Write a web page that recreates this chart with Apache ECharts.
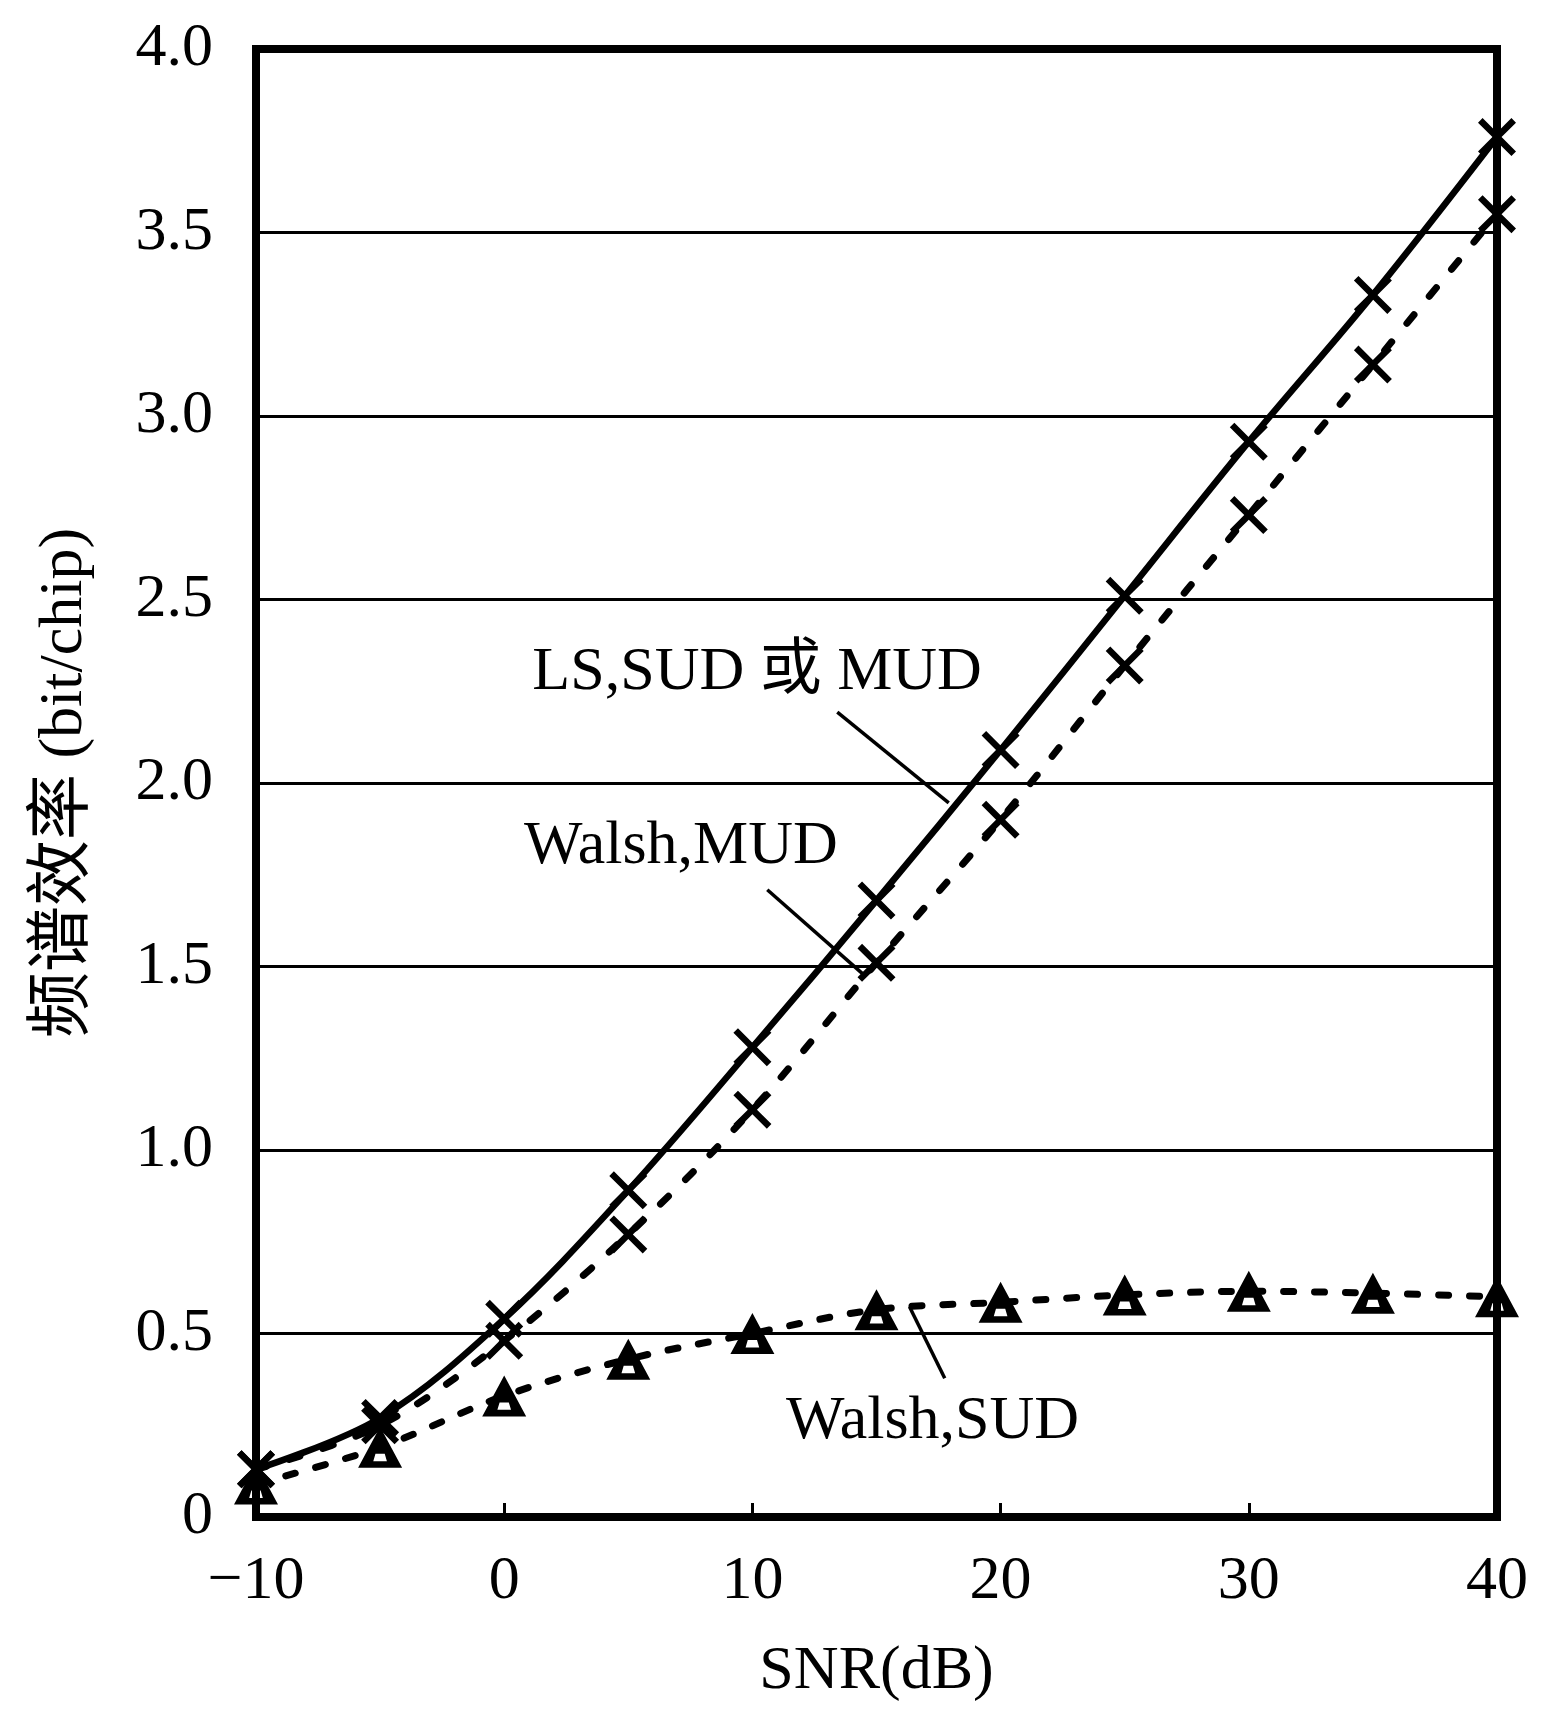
<!DOCTYPE html>
<html>
<head>
<meta charset="utf-8">
<script src="https://cdn.jsdelivr.net/npm/echarts@6/dist/echarts.min.js"></script>
<style>
html,body{margin:0;padding:0;background:#fff;}
#main{width:1556px;height:1713px;}
</style>
</head>
<body>
<div id="main"></div>
<script>
const snr = [-10, -5, 0, 5, 10, 15, 20, 25, 30, 35, 40];
const lsSudMud = [0.13, 0.27, 0.54, 0.89, 1.28, 1.68, 2.09, 2.51, 2.93, 3.33, 3.76];
const walshMud = [0.13, 0.25, 0.48, 0.77, 1.11, 1.51, 1.90, 2.32, 2.73, 3.14, 3.55];
const walshSud = [0.09, 0.19, 0.33, 0.43, 0.50, 0.565, 0.585, 0.605, 0.615, 0.61, 0.60];
const xTicks = [-10, 0, 10, 20, 30, 40];
const yTicks = [0, 0.5, 1.0, 1.5, 2.0, 2.5, 3.0, 3.5, 4.0];
const xName = 'SNR(dB)';
const yNameCn = '频谱效率';
const yNameEn = '(bit/chip)';

// annotations (data coordinates)
const annoTexts = [
  { text: 'LS,SUD 或 MUD', at: [10.19, 2.30] },
  { text: 'Walsh,MUD', at: [7.12, 1.826] },
  { text: 'Walsh,SUD', at: [17.26, 0.26] }
];
const annoLines = [
  [[13.42, 2.193], [17.91, 1.946]],
  [[10.6, 1.709], [14.48, 1.478]],
  [[16.33, 0.573], [17.75, 0.378]]
];

const FONT = "'Liberation Serif','Times New Roman','Noto Sans CJK SC',serif";
const X_SYMBOL = 'path://M0,1.2 L1.2,0 L5,3.8 L8.8,0 L10,1.2 L6.2,5 L10,8.8 L8.8,10 L5,6.2 L1.2,10 L0,8.8 L3.8,5 Z';
const TRI_SYMBOL = 'path://M5,0 L10,9.4 L0,9.4 Z M3.95,6.2 L3.45,7.9 L6.55,7.9 L6.05,6.2 Z';

const chart = echarts.init(document.getElementById('main'));
const pairs = arr => snr.map((x, i) => [x, arr[i]]);

chart.setOption({
  backgroundColor: '#fff',
  animation: false,
  grid: {
    left: 256, top: 49, right: 59, bottom: 196,
    show: true, borderColor: '#000', borderWidth: 8, backgroundColor: 'transparent'
  },
  xAxis: {
    type: 'value', min: -10, max: 40, interval: 10,
    name: xName, nameLocation: 'middle', nameGap: 124,
    nameTextStyle: { fontFamily: FONT, fontSize: 62, color: '#000' },
    axisLine: { show: true, onZero: false, lineStyle: { color: '#000', width: 8 } },
    axisTick: { show: true, inside: true, length: 14, customValues: xTicks, lineStyle: { color: '#000', width: 3 } },
    splitLine: { show: false },
    axisLabel: {
      fontFamily: FONT, fontSize: 62, color: '#000', margin: 34,
      customValues: xTicks,
      formatter: v => String(v).replace('-', '\u2212')
    }
  },
  yAxis: {
    type: 'value', min: 0, max: 4, interval: 0.5,
    name: '{cn|' + yNameCn + '} {en|' + yNameEn + '}', nameLocation: 'middle', nameGap: 158,
    nameTextStyle: {
      fontFamily: FONT, fontSize: 62, color: '#000',
      rich: {
        cn: { fontFamily: FONT, fontSize: 66, color: '#000' },
        en: { fontFamily: FONT, fontSize: 62, color: '#000' }
      }
    },
    axisLine: { show: true, onZero: false, lineStyle: { color: '#000', width: 8 } },
    axisTick: { show: false },
    splitLine: { show: true, lineStyle: { color: '#000', width: 3 } },
    axisLabel: {
      fontFamily: FONT, fontSize: 62, color: '#000', margin: 43,
      formatter: v => (v === 0 ? '0' : v.toFixed(1))
    }
  },
  series: [
    {
      name: 'LS,SUD 或 MUD', type: 'line', data: pairs(lsSudMud), smooth: 0.35, clip: false,
      symbol: X_SYMBOL, symbolSize: 38, showAllSymbol: true,
      lineStyle: { color: '#000', width: 6.5 },
      itemStyle: { color: '#000' }, z: 3
    },
    {
      name: 'Walsh,MUD', type: 'line', data: pairs(walshMud), smooth: 0.35, clip: false,
      symbol: X_SYMBOL, symbolSize: 38, showAllSymbol: true,
      lineStyle: { color: '#000', width: 7, type: [11, 24], cap: 'round' },
      itemStyle: { color: '#000' }, z: 3
    },
    {
      name: 'Walsh,SUD', type: 'line', data: pairs(walshSud), smooth: 0.35, clip: false,
      symbol: TRI_SYMBOL, symbolSize: [44, 41], showAllSymbol: true,
      lineStyle: { color: '#000', width: 7, type: [10, 21], cap: 'round' },
      itemStyle: { color: '#000' }, z: 3
    }
  ]
});

const px = p => chart.convertToPixel({ gridIndex: 0 }, p);
const graphics = [];
annoTexts.forEach(a => {
  const p = px(a.at);
  graphics.push({
    type: 'text', x: p[0], y: p[1],
    style: { text: a.text, font: "62px " + FONT, fill: '#000', align: 'center', verticalAlign: 'middle' },
    z: 10
  });
});
annoLines.forEach(l => {
  const a = px(l[0]), b = px(l[1]);
  graphics.push({
    type: 'line', shape: { x1: a[0], y1: a[1], x2: b[0], y2: b[1] },
    style: { stroke: '#000', lineWidth: 3.5 }, z: 10
  });
});
chart.setOption({ graphic: graphics });
</script>
</body>
</html>
